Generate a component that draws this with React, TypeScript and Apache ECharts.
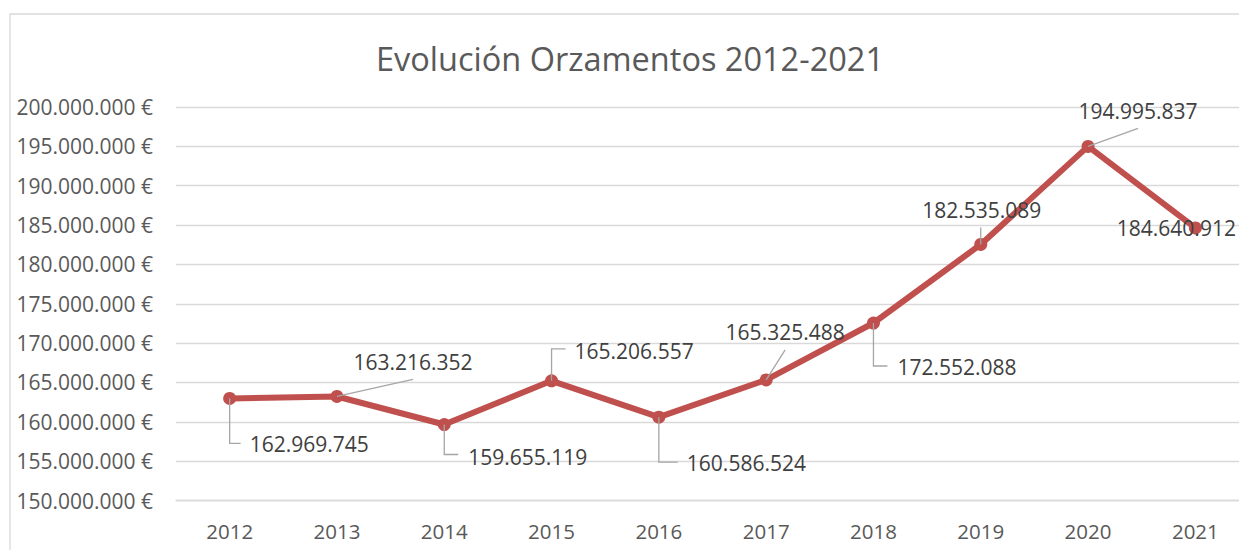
import React, { useEffect, useRef } from "react";
import * as echarts from "echarts";

const years = ["2012", "2013", "2014", "2015", "2016", "2017", "2018", "2019", "2020", "2021"];
const budgets = [
  162969745, 163216352, 159655119, 165206557, 160586524,
  165325488, 172552088, 182535089, 194995837, 184640912,
];
const yMin = 150000000;
const yMax = 200000000;
const yStep = 5000000;
const titleText = "Evolución Orzamentos 2012-2021";

// label placement relative to each point (pixels): leader polyline, text anchor, alignment
const labelLayouts: { leader: number[][]; tx: number; ty: number; align: string }[] = [
  { leader: [[0, 0], [0, 45], [11, 45]], tx: 20, ty: 46, align: "left" },
  { leader: [[0, 0], [76, -17]], tx: 76, ty: -34, align: "center" },
  { leader: [[0, 0], [0, 30], [14, 30]], tx: 24, ty: 32, align: "left" },
  { leader: [[0, 0], [0, -32], [14, -32]], tx: 23, ty: -30, align: "left" },
  { leader: [[0, 0], [0, 45], [19, 45]], tx: 28, ty: 46, align: "left" },
  { leader: [[0, 0], [19, -30]], tx: 19, ty: -48, align: "center" },
  { leader: [[0, 0], [0, 43], [14, 43]], tx: 24, ty: 44, align: "left" },
  { leader: [[0, 0], [0, -17]], tx: 1, ty: -34, align: "center" },
  { leader: [[0, 0], [50, -18]], tx: 50, ty: -35, align: "center" },
  { leader: [], tx: -19, ty: 0, align: "center" },
];

const FONT = "'Open Sans', 'Noto Sans', sans-serif";

function dots(v: number): string {
  return Math.round(v).toString().replace(/\B(?=(\d{3})+(?!\d))/g, ".");
}

export default function App() {
  const ref = useRef<HTMLDivElement>(null);

  useEffect(() => {
    if (!ref.current) return;
    const chart = echarts.init(ref.current, undefined, { renderer: "svg" });
    chart.setOption({
      animation: false,
      backgroundColor: "#ffffff",
      textStyle: { fontFamily: FONT },
      title: {
        text: titleText,
        left: "center",
        top: 37,
        textStyle: { fontFamily: FONT, fontSize: 32.5, fontWeight: "normal", color: "#595959" },
      },
      graphic: [
        {
          type: "rect",
          shape: { x: 10, y: 14, width: 1400, height: 700 },
          style: { fill: "none", stroke: "#d9d9d9", lineWidth: 1.3 },
          silent: true,
          z: -1,
        },
      ],
      grid: { left: 176, right: 11, top: 107, bottom: 49.5 },
      xAxis: {
        type: "category",
        data: years,
        boundaryGap: true,
        axisLine: { show: true, lineStyle: { color: "#d9d9d9", width: 1.3 } },
        axisTick: { show: false },
        axisLabel: { color: "#595959", fontSize: 20.5, fontFamily: FONT, margin: 20 },
      },
      yAxis: {
        type: "value",
        min: yMin,
        max: yMax,
        interval: yStep,
        axisLine: { show: false },
        axisTick: { show: false },
        splitLine: { lineStyle: { color: "#d9d9d9", width: 1.3 } },
        axisLabel: {
          color: "#595959",
          fontSize: 21,
          fontFamily: FONT,
          margin: 23,
          formatter: (v: number) => dots(v) + " €",
        },
      },
      series: [
        {
          type: "line",
          data: budgets,
          symbol: "circle",
          symbolSize: 13,
          lineStyle: { color: "#c0504d", width: 6 },
          itemStyle: { color: "#c0504d" },
          label: { show: false },
          z: 3,
        },
        {
          type: "custom",
          coordinateSystem: "cartesian2d",
          data: budgets.map((v, i) => [i, v]),
          silent: true,
          z: 4,
          renderItem: (params: any, api: any) => {
            const i = params.dataIndex;
            const pt = api.coord([api.value(0), api.value(1)]);
            const L = labelLayouts[i];
            const children: any[] = [];
            if (L.leader.length > 1) {
              children.push({
                type: "polyline",
                shape: { points: L.leader.map((p) => [pt[0] + p[0], pt[1] + p[1]]) },
                style: { stroke: "#a6a6a6", lineWidth: 1.3, fill: "none" },
              });
            }
            children.push({
              type: "text",
              x: pt[0] + L.tx,
              y: pt[1] + L.ty,
              style: {
                text: dots(budgets[i]),
                fill: "#404040",
                fontSize: 21,
                fontFamily: FONT,
                textAlign: L.align,
                textVerticalAlign: "middle",
                align: L.align,
                verticalAlign: "middle",
              },
            });
            return { type: "group", children };
          },
        },
      ],
    });
    return () => chart.dispose();
  }, []);

  return (
    <div style={{ position: "fixed", left: 0, top: 0, width: 1239, height: 550, overflow: "hidden", background: "#fff" }}>
      <div ref={ref} style={{ width: 1260, height: 550 }} />
    </div>
  );
}
